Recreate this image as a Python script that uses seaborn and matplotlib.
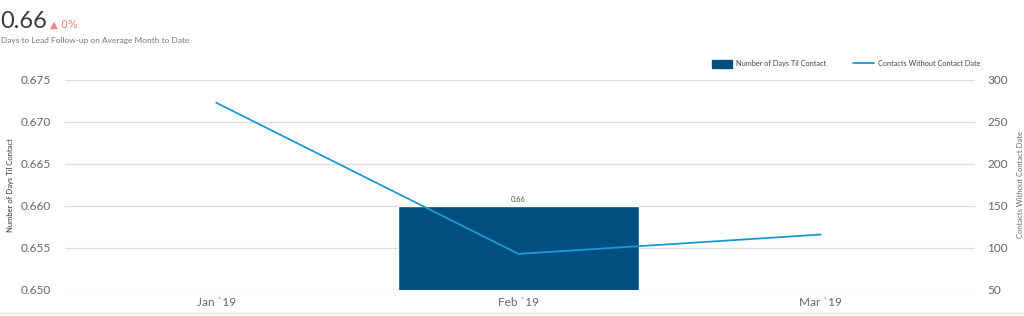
import numpy as np
import pandas as pd
import matplotlib
matplotlib.use("Agg")
import matplotlib.pyplot as plt
import seaborn as sns
from matplotlib.patches import Patch
from matplotlib.lines import Line2D

months = ["Jan`19", "Feb`19", "Mar`19"]
month_labels = ["Jan `19", "Feb `19", "Mar `19"]
days_til_contact = [np.nan, 0.66, np.nan]
contacts_without_date = [273, 93, 116]

left_ticks = [0.650, 0.655, 0.660, 0.665, 0.670, 0.675]
right_ticks = [50, 100, 150, 200, 250, 300]

sns.set_theme(style="white")
plt.rcParams["font.family"] = ["Lato", "DejaVu Sans"]

BAR = "#004f80"
LINE = "#1b98d5"
GRID = "#dcdcdc"
TICK = "#666666"

df = pd.DataFrame({"month": months, "days": days_til_contact, "contacts": contacts_without_date})

fig = plt.figure(figsize=(10.24, 3.16), dpi=100)
ax = fig.add_axes([65 / 1024, 1 - 290 / 316, (975 - 65) / 1024, (290 - 80) / 316])

sns.barplot(data=df, x="month", y="days", order=months, color=BAR, saturation=1,
            width=0.8, ax=ax, zorder=2)
ax.set_ylim(0.650, 0.675)
ax.set_yticks(left_ticks)
ax.set_yticklabels([f"{v:.3f}" for v in left_ticks])
ax.set_xlim(-0.5, 2.51)
ax.set_xticks(range(len(months)))
ax.set_xticklabels(month_labels)
ax.grid(axis="y", color=GRID, linewidth=0.9, zorder=0)
ax.set_axisbelow(True)
for s in ax.spines.values():
    s.set_visible(False)
ax.tick_params(axis="both", length=0, labelsize=8.5, colors=TICK, pad=5)
ax.tick_params(axis="y", pad=10)
ax.set_xlabel("")
ax.set_ylabel("Number of Days Til Contact", fontsize=5.5, color="#333333")
ax.yaxis.set_label_coords((14 - 65) / 910, 0.5)

for i, v in enumerate(days_til_contact):
    if not np.isnan(v):
        ax.text(i, v + 0.0003, f"{v:.2f}", ha="center", va="bottom", fontsize=5.5, color="#555555")

ax2 = ax.twinx()
sns.lineplot(x=np.arange(len(months)), y=contacts_without_date, color=LINE, linewidth=1.3, ax=ax2)
ax2.set_ylim(50, 300)
ax2.set_yticks(right_ticks)
ax2.set_yticklabels([str(v) for v in right_ticks])
ax2.set_xlim(-0.5, 2.51)
for s in ax2.spines.values():
    s.set_visible(False)
ax2.tick_params(axis="y", length=0, labelsize=8.5, colors=TICK, pad=9)
ax2.set_ylabel("Contacts Without Contact Date", fontsize=5.5, color="#666666")
ax2.yaxis.set_label_coords((1017 - 65) / 910, 0.5)
ax2.grid(False)

handles = [Patch(facecolor=BAR, edgecolor=BAR),
           Line2D([0], [0], color=LINE, linewidth=1.3)]
fig.legend(handles, ["Number of Days Til Contact", "Contacts Without Contact Date"],
           loc="center", bbox_to_anchor=(846 / 1024, 1 - 64 / 316), ncol=2, frameon=False,
           fontsize=5.3, handlelength=2.8, handleheight=1.4, columnspacing=3.6, handletextpad=0.55,
           labelcolor="#444444")

fig.text(0 / 1024, 1 - 22 / 316, "0.66", fontsize=17, color="#3a3a3a", va="center", ha="left")
fig.text(50 / 1024, 1 - 25 / 316, "\u25b2 0%", fontsize=7.5, color="#f08080", va="center", ha="left",
         family=["DejaVu Sans"])
fig.text(1 / 1024, 1 - 40 / 316, "Days to Lead Follow-up on Average Month to Date", fontsize=6,
         color="#777777", va="center", ha="left")

fig.add_artist(Line2D([0, 1], [1 - 313 / 316] * 2, color="#e0e0e0", linewidth=1, transform=fig.transFigure))

fig.savefig("out.png", dpi=100)
